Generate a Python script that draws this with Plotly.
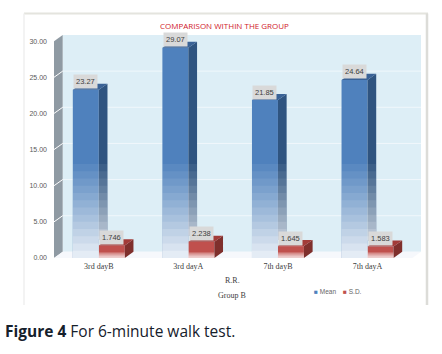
import plotly.graph_objects as go

categories = ["3rd dayB", "3rd dayA", "7th dayB", "7th dayA"]
mean_values = [23.27, 29.07, 21.85, 24.64]
sd_values = [1.746, 2.238, 1.645, 1.583]
mean_labels = ["23.27", "29.07", "21.85", "24.64"]
sd_labels = ["1.746", "2.238", "1.645", "1.583"]
y_ticks = [0, 5, 10, 15, 20, 25, 30]

W, H = 442, 354
BW = 0.29       # bar width in category units
DX, DY = 0.097, 0.85   # 3-D depth in axis units
X0, X1 = -0.5, 3.5 + DX
TOP = 30 + DY
FLOOR = "#f6f8fc"


def poly(points, fill):
    xs, ys = [], []
    for shape in points:
        xs += [p[0] for p in shape] + [shape[0][0], None]
        ys += [p[1] for p in shape] + [shape[0][1], None]
    return go.Scatter(x=xs, y=ys, mode="lines", fill="toself", fillcolor=fill,
                      line=dict(width=0), hoverinfo="skip", showlegend=False)


fig = go.Figure()
xs = list(range(len(categories)))
fig.add_trace(go.Bar(x=xs, y=mean_values, name="Mean", marker=dict(color="#4f81bd", line=dict(width=0)), showlegend=False))
fig.add_trace(go.Bar(x=xs, y=sd_values, name="S.D.", marker=dict(color="#c0504d", line=dict(width=0)), showlegend=False))

# blue 3-D faces; the side stops where the red block starts
fig.add_trace(poly([[(i, s + DY), (i + DX, s + DY), (i + DX, m + DY), (i, m)]
                    for i, m, s in zip(xs, mean_values, sd_values)], "#2f5480"))
fig.add_trace(poly([[(i - BW, m), (i, m), (i + DX, m + DY), (i - BW + DX, m + DY)]
                    for i, m in zip(xs, mean_values)], "#3a6296"))

# fade of the blue columns towards the floor: nested veils, so no seams show
LEVELS = 13
FADE_MAX = 0.86
prev = 0.0
for k in range(LEVELS, 0, -1):
    target = FADE_MAX * (LEVELS - k + 1) / LEVELS
    alpha = 1 - (1 - target) / (1 - prev)
    prev = target
    shapes = []
    for i, s in zip(xs, sd_values):
        shapes.append([(i - BW, 0), (i, 0), (i, k), (i - BW, k)])
        if k > s + DY:
            shapes.append([(i, s + DY), (i + DX, s + DY), (i + DX, k + DY * 0.0), (i, k)])
    fig.add_trace(poly(shapes, f"rgba(255,255,255,{alpha:.3f})"))

# red 3-D faces
fig.add_trace(poly([[(i + BW, s), (i + BW + DX, s + DY), (i + BW + DX, DY), (i + BW, 0)]
                    for i, s in zip(xs, sd_values)], "#7f2f2c"))
fig.add_trace(poly([[(i, s), (i + BW, s), (i + BW + DX, s + DY), (i + DX, s + DY)]
                    for i, s in zip(xs, sd_values)], "#a23b38"))
for hi in [0.75, 0.5, 0.25]:
    fig.add_trace(poly([[(i, 0), (i + BW, 0), (i + BW, hi), (i, hi)] for i in xs],
                       "rgba(255,255,255,0.35)"))

# back wall, side wall, floor, grid
shapes = [
    dict(type="rect", x0=X0 + DX, x1=X1, y0=DY, y1=TOP, fillcolor="#ddeef6", line_width=0, layer="below"),
    dict(type="path", path=f"M {X0} 0 L {X0+DX} {DY} L {X0+DX} {TOP} L {X0} 30 Z",
         fillcolor="#8f9aa3", line_width=0, layer="below"),
    dict(type="path", path=f"M {X0} 0 L {X0+DX} {DY} L {X1} {DY} L {X1-DX} 0 Z",
         fillcolor=FLOOR, line_width=0, layer="below"),
]
for t in y_ticks[1:-1]:
    shapes.append(dict(type="line", x0=X0 + DX, x1=X1, y0=t + DY, y1=t + DY,
                       line=dict(color="#f0f7fb", width=1), layer="below"))
for t in y_ticks[1:-1]:
    shapes.append(dict(type="line", x0=X0, x1=X0 + DX, y0=t, y1=t + DY,
                       line=dict(color="#ffffff", width=1), layer="below"))
# picture frame
frame = "#e4e4de"
shapes += [
    dict(type="line", xref="paper", yref="paper", x0=(24 - 54) / 367, x1=(428 - 54) / 367,
         y0=(258 - 13) / 223.5, y1=(258 - 13) / 223.5, line=dict(color=frame, width=2)),
    dict(type="line", xref="paper", yref="paper", x0=(24 - 54) / 367, x1=(24 - 54) / 367,
         y0=(258 - 13) / 223.5, y1=(258 - 305) / 223.5, line=dict(color="#efefef", width=1.5)),
    dict(type="line", xref="paper", yref="paper", x0=(427 - 54) / 367, x1=(427 - 54) / 367,
         y0=(258 - 13) / 223.5, y1=(258 - 305) / 223.5, line=dict(color="#dcdcd8", width=2.5)),
]

ann = []
label_font = dict(family="Liberation Sans", size=7.5, color="#404040")
for i, m, s, ml, sl in zip(xs, mean_values, sd_values, mean_labels, sd_labels):
    ann.append(dict(x=i - BW / 2, y=m, text=ml, showarrow=False, yshift=8, bgcolor="#d9d9d9",
                    font=label_font, borderpad=2))
    ann.append(dict(x=i + BW / 2, y=s, text=sl, showarrow=False, yshift=8, bgcolor="#d9d9d9",
                    font=label_font, borderpad=2))


def px_ann(x, y, text, font, anchor="center"):
    return dict(xref="paper", yref="paper", x=(x - 54) / 367, y=(258 - y) / 223.5, text=text,
                showarrow=False, font=font, xanchor=anchor, yanchor="middle", borderpad=0)


serif = dict(family="Liberation Serif", size=8, color="#404040")
legend_font = dict(family="Liberation Sans", size=6.5, color="#666666")
ann += [
    px_ann(224, 25, "COMPARISON WITHIN THE GROUP", dict(family="Open Sans", size=8, color="#d0202a")),
    px_ann(232, 281, "R.R.", serif),
    px_ann(232, 296, "Group B", serif),
    px_ann(313, 292, "<span style='color:#4f81bd'>■</span> Mean", legend_font, "left"),
    px_ann(342, 292, "<span style='color:#c0504d'>■</span> S.D.", legend_font, "left"),
    px_ann(4, 331, "<b>Figure 4</b> For 6-minute walk test.",
           dict(family="Open Sans", size=15.5, color="#15202b"), "left"),
]

fig.update_layout(
    width=W, height=H, autosize=False, showlegend=False,
    margin=dict(l=54, r=21, t=34.5, b=96),
    paper_bgcolor="white", plot_bgcolor="white",
    barmode="group", bargap=0.42, bargroupgap=0,
    shapes=shapes, annotations=ann,
    xaxis=dict(range=[X0, X1], tickmode="array", tickvals=xs, ticktext=categories,
               showgrid=False, zeroline=False, showline=False, ticks="",
               tickfont=serif, ticklabelstandoff=2),
    yaxis=dict(range=[0, TOP], tickmode="array", tickvals=y_ticks,
               ticktext=[f"{t:.2f}" for t in y_ticks], showgrid=False, zeroline=False,
               showline=False, ticks="", ticklabelstandoff=6,
               tickfont=dict(family="Liberation Sans", size=7, color="#595959")),
)
fig.write_html("out.html", config={"displayModeBar": False},
               post_script="document.body.style.margin='0';")
